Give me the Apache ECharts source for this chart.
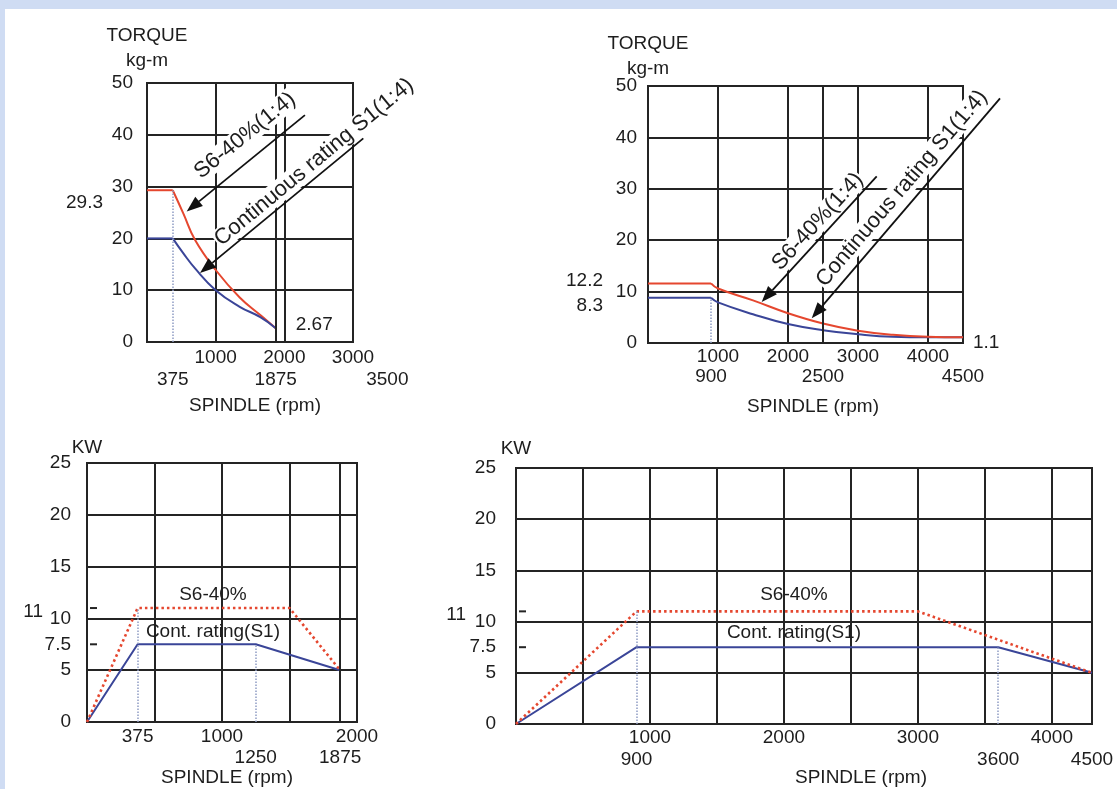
<!DOCTYPE html>
<html><head><meta charset="utf-8">
<script src="https://cdn.jsdelivr.net/npm/echarts@6/dist/echarts.min.js"></script>
<style>
html,body{margin:0;padding:0;background:#cfdcf3;overflow:hidden}
#panel{position:absolute;left:5px;top:9px;width:1112px;height:780px;background:#fff}
#main{position:absolute;left:0;top:0;width:1117px;height:789px}
</style></head><body><div id="panel"></div><div id="main"></div>
<script>
// ---------------- DATA ----------------
// Chart 1 : torque (kg-m) vs spindle rpm, low gear 1:4
const c1Rpm = [0, 375, 530, 700, 1000, 1350, 1650, 1875];
const c1S6  = [29.3, 29.3, 24.8, 19.7, 13.9, 8.6, 5.2, 2.67];
const c1S1  = [20, 20, 17.1, 14.2, 10.0, 6.8, 4.8, 2.67];
const c1XRow1 = [1000, 2000, 3000];
const c1XRow2 = [375, 1875, 3500];
const c1ExtraGrid = [1875];
const c1SideLabels = ['29.3'];
const c1EndLabel = '2.67';
// Chart 2 : torque (kg-m) vs spindle rpm, high gear
const c2Rpm = [0, 900, 1000, 1500, 2000, 2500, 3000, 3500, 4000, 4500];
const c2S6  = [11.6, 11.6, 10.6, 8.3, 5.8, 3.8, 2.4, 1.6, 1.2, 1.1];
const c2S1  = [8.8, 8.8, 7.9, 5.6, 3.7, 2.5, 1.7, 1.2, 1.1, 1.1];
const c2XRow1 = [1000, 2000, 3000, 4000];
const c2XRow2 = [900, 2500, 4500];
const c2ExtraGrid = [2500];
const c2SideLabels = ['12.2', '8.3'];
const c2EndLabel = '1.1';
// Chart 3 : power (KW) vs spindle rpm, low gear
const c3S6Rpm = [0, 375, 1500, 1875];
const c3S6Kw  = [0, 11, 11, 5];
const c3S1Rpm = [0, 375, 1250, 1875];
const c3S1Kw  = [0, 7.5, 7.5, 5];
const c3XRow1 = [375, 1000, 2000];
const c3XRow2 = [1250, 1875];
const c3ExtraGrid = [1875];
// Chart 4 : power (KW) vs spindle rpm, high gear
const c4S6Rpm = [0, 900, 3000, 4300];
const c4S6Kw  = [0, 11, 11, 5];
const c4S1Rpm = [0, 900, 3600, 4300];
const c4S1Kw  = [0, 7.5, 7.5, 5];
const c4XRow1 = [1000, 2000, 3000, 4000];
const c4XRow2 = [900, 3600, 4500];
// shared y tick labels
const torqueTicks = [0, 10, 20, 30, 40, 50];
const kwTicks = [0, 5, 7.5, 10, 15, 20, 25];
const kwMarks = [11, 7.5];
// annotation texts
const c1Arrows = [
  {text: 'S6-40%(1:4)', tip: [578, 25.2], tail: [2300, 43.8]},
  {text: 'Continuous rating S1(1:4)', tip: [772, 13.3], tail: [3150, 39.3]}
];
const c2Arrows = [
  {text: 'S6-40%(1:4)', tip: [1624, 8.0], tail: [3267, 32.4]},
  {text: 'Continuous rating S1(1:4)', tip: [2339, 4.8], tail: [5029, 47.6]}
];
const c3Notes = [{text: 'S6-40%', at: [933, 12.3]}, {text: 'Cont. rating(S1)', at: [933, 8.7]}];
const c4Notes = [{text: 'S6-40%', at: [2075, 12.6]}, {text: 'Cont. rating(S1)', at: [2075, 8.9]}];

// ---------------- LAYOUT / STYLE ----------------
const FONT = '"Liberation Sans", Arial, Helvetica, sans-serif';
const INK = '#1d1d1d';
const LINE = '#242424';
const RED = '#e5472f';
const BLUE = '#3a4598';
const GUIDE = '#8f9cc4';
const grids = [
  {left: 147, top: 83, width: 206, height: 259},
  {left: 648, top: 86, width: 315, height: 257},
  {left: 87, top: 463, width: 270, height: 259},
  {left: 516, top: 468, width: 576, height: 256}
];
const layout = {
  yLabelMargin: [14, 11, 16, 20],
  yNameGap: [10, 5, 4, 8],
  xNameGap: [53, 53, 45, 43],
  xNameShift: [10, 15, 10, 114],
  row1: [16, 14, 15, 14],
  row2: [38, 34, 36, 36],
  c1Text: [{t: 0.61, off: 22}, {t: 0.75, off: 13}],
  c2Text: [{t: 0.57, off: 13}, {t: 0.543, off: 16}]
};

function pairs(xs, ys) { return xs.map((x, i) => [x, ys[i]]); }

function xAxisCfg(g, max, interval) {
  return {
    gridIndex: g, type: 'value', min: 0, max: max, interval: interval,
    axisLine: {show: false}, axisTick: {show: false}, axisLabel: {show: false},
    splitLine: {show: true, lineStyle: {color: LINE, width: 2}},
    name: 'SPINDLE (rpm)', nameLocation: 'middle', nameGap: layout.xNameGap[g], nameMoveOverlap: false,
    nameTextStyle: {fontSize: 19, lineHeight: 22, color: INK, fontFamily: FONT,
      padding: [0, 0, 0, layout.xNameShift[g]]}
  };
}
function yAxisCfg(g, max, interval, name, custom) {
  const lab = {fontSize: 19, color: INK, fontFamily: FONT, margin: layout.yLabelMargin[g]};
  if (custom) lab.customValues = custom;
  return {
    gridIndex: g, type: 'value', min: 0, max: max, interval: interval,
    axisLine: {show: false}, axisTick: {show: false}, axisLabel: lab,
    splitLine: {show: true, lineStyle: {color: LINE, width: 2}},
    name: name, nameLocation: 'end', nameGap: layout.yNameGap[g], nameMoveOverlap: false,
    nameTextStyle: {fontSize: 19, lineHeight: name.indexOf('\n') >= 0 ? 25 : 22, color: INK, fontFamily: FONT, align: 'center'}
  };
}
function helper(g, vals) {
  return {type: 'line', xAxisIndex: g, yAxisIndex: g, data: [], z: 1, silent: true,
    markLine: {silent: true, symbol: ['none', 'none'], label: {show: false},
      lineStyle: {color: LINE, width: 2, type: 'solid'}, emphasis: {disabled: true},
      data: vals.map(v => ({xAxis: v}))}};
}
function guides(segs) {
  return {silent: true, symbol: ['none', 'none'], label: {show: false},
    lineStyle: {color: GUIDE, width: 1.5, type: 'dotted'}, emphasis: {disabled: true},
    data: segs.map(s => [{coord: [s[0], 0]}, {coord: [s[0], s[1]]}])};
}
function curve(g, data, color, opts) {
  return Object.assign({type: 'line', xAxisIndex: g, yAxisIndex: g, data: data, symbol: 'none',
    silent: true, z: 3, lineStyle: {color: color, width: 2}}, opts || {});
}
// torque curve = flat part (straight) + falling part (smoothed), both from the same arrays
function torque(g, xs, ys, color, extra) {
  return [
    curve(g, pairs(xs.slice(0, 2), ys.slice(0, 2)), color, extra || {}),
    curve(g, pairs(xs.slice(1), ys.slice(1)), color, {smooth: 0.45})
  ];
}

const option = {
  animation: false,
  backgroundColor: 'transparent',
  textStyle: {fontFamily: FONT, color: INK},
  grid: grids.map(g => Object.assign({show: true, borderColor: LINE, borderWidth: 2,
    backgroundColor: 'transparent', containLabel: false, outerBoundsMode: 'none'}, g)),
  xAxis: [xAxisCfg(0, 3000, 1000), xAxisCfg(1, 4500, 1000), xAxisCfg(2, 2000, 500), xAxisCfg(3, 4300, 500)],
  yAxis: [
    yAxisCfg(0, 50, 10, 'TORQUE\nkg-m', torqueTicks),
    yAxisCfg(1, 50, 10, 'TORQUE\nkg-m', torqueTicks),
    yAxisCfg(2, 25, 5, 'KW', kwTicks),
    yAxisCfg(3, 25, 5, 'KW', kwTicks)
  ],
  series: [].concat(
    [helper(0, c1ExtraGrid)],
    torque(0, c1Rpm, c1S6, RED),
    torque(0, c1Rpm, c1S1, BLUE, {markLine: guides([[c1Rpm[1], c1S6[1]]])}),
    [helper(1, c2ExtraGrid)],
    torque(1, c2Rpm, c2S1, BLUE, {markLine: guides([[c2Rpm[1], c2S1[1]]])}),
    torque(1, c2Rpm, c2S6, RED),
    [helper(2, c3ExtraGrid),
     curve(2, pairs(c3S1Rpm, c3S1Kw), BLUE, {markLine: guides([[c3S6Rpm[1], c3S6Kw[1]], [c3S1Rpm[2], c3S1Kw[2]]])}),
     curve(2, pairs(c3S6Rpm, c3S6Kw), RED, {lineStyle: {color: RED, width: 2.6, type: [2.5, 3]}}),
     curve(3, pairs(c4S1Rpm, c4S1Kw), BLUE, {markLine: guides([[c4S6Rpm[1], c4S6Kw[1]], [c4S1Rpm[2], c4S1Kw[2]]])}),
     curve(3, pairs(c4S6Rpm, c4S6Kw), RED, {lineStyle: {color: RED, width: 2.6, type: [2.5, 3]}})]
  )
};

const chart = echarts.init(document.getElementById('main'), null, {renderer: 'canvas'});
chart.setOption(option);

// ---------------- texts & annotations placed through the axes ----------------
function px(g, pt) { return chart.convertToPixel({gridIndex: g}, pt); }
const G = [];
function txt(x, y, s, o) {
  o = o || {};
  const st = {text: s, fontFamily: FONT, fontSize: o.size || 19, fill: INK,
    align: o.align || 'center', verticalAlign: 'middle'};
  if (o.bg) { st.backgroundColor = o.bg; st.padding = [0, 1]; }
  G.push({type: 'text', x: x, y: y, rotation: o.rot || 0, z: o.z || 30, silent: true, style: st});
}
function rows(g, r1, r2, clampMax) {
  const bottom = grids[g].top + grids[g].height;
  r1.forEach(v => txt(px(g, [v, 0])[0], bottom + layout.row1[g], String(v)));
  r2.forEach(v => txt(px(g, [Math.min(v, clampMax), 0])[0], bottom + layout.row2[g], String(v)));
}
rows(0, c1XRow1, c1XRow2, Infinity);
rows(1, c2XRow1, c2XRow2, Infinity);
rows(2, c3XRow1, c3XRow2, Infinity);
rows(3, c4XRow1, c4XRow2, c4S1Rpm[c4S1Rpm.length - 1]);

// side value labels on the y side
function side(g, value, s, dx, dy) {
  const p = px(g, [0, value]);
  txt(p[0] + dx, p[1] + dy, s, {align: 'right'});
}
side(0, parseFloat(c1SideLabels[0]), c1SideLabels[0], -44, 13);
side(1, parseFloat(c2SideLabels[0]), c2SideLabels[0], -45, 0);
side(1, parseFloat(c2SideLabels[1]), c2SideLabels[1], -45, 5);
side(2, c3S6Kw[1], String(c3S6Kw[1]), -44, 4);
side(3, c4S6Kw[1], String(c4S6Kw[1]), -50, 3);

// end labels
(function () {
  const p1 = px(0, [c1Rpm[c1Rpm.length - 1], c1S1[c1S1.length - 1]]);
  txt(p1[0] + 19, p1[1] - 3, c1EndLabel, {align: 'left', bg: '#fff'});
  const p2 = px(1, [c2Rpm[c2Rpm.length - 1], c2S6[c2S6.length - 1]]);
  txt(p2[0] + 10, p2[1] + 5, c2EndLabel, {align: 'left'});
})();

// short marks at 11 and 7.5 on KW axes
[2, 3].forEach(g => kwMarks.forEach(v => {
  const p = px(g, [0, v]);
  G.push({type: 'line', z: 30, silent: true, shape: {x1: p[0] + 3, y1: p[1], x2: p[0] + 10, y2: p[1]},
    style: {stroke: LINE, lineWidth: 2}});
}));

// notes inside power charts
function notes(g, list) { list.forEach(n => { const p = px(g, n.at); txt(p[0], p[1], n.text); }); }
notes(2, c3Notes);
notes(3, c4Notes);

// arrows with rotated captions
function arrows(g, list, lay) {
  list.forEach((a, i) => {
    const A = px(g, a.tip), B = px(g, a.tail);
    const dx = B[0] - A[0], dy = B[1] - A[1], L = Math.hypot(dx, dy);
    const ux = dx / L, uy = dy / L, hl = 16, hw = 6;
    const bx = A[0] + ux * hl, by = A[1] + uy * hl;
    G.push({type: 'line', z: 50, silent: true, shape: {x1: bx, y1: by, x2: B[0], y2: B[1]},
      style: {stroke: '#111', lineWidth: 1.8}});
    G.push({type: 'polygon', z: 50, silent: true,
      shape: {points: [A, [bx - uy * hw, by + ux * hw], [bx + uy * hw, by - ux * hw]]},
      style: {fill: '#111'}});
    const t = lay[i].t, off = lay[i].off;
    const cx = A[0] + dx * t + uy * off, cy = A[1] + dy * t - ux * off;
    txt(cx, cy, a.text, {rot: Math.atan2(-dy, dx), size: 22, bg: '#fff', z: 40});
  });
}
arrows(0, c1Arrows, layout.c1Text);
arrows(1, c2Arrows, layout.c2Text);

chart.setOption({graphic: {elements: G}});
</script></body></html>
